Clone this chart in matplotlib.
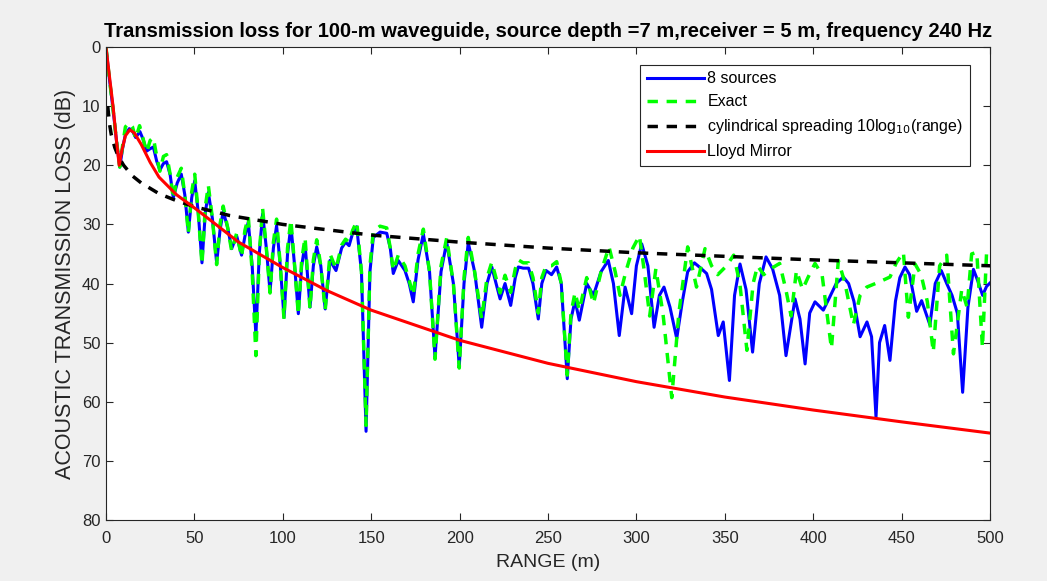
import matplotlib
matplotlib.use("Agg")
import matplotlib.pyplot as plt

plt.rcParams['font.family'] = ['Liberation Sans', 'DejaVu Sans']

# 8 sources (blue)
src8_range = [0, 2, 4, 6, 7.8, 9.5, 11, 13.2, 15, 16.8, 19.2, 21, 23, 25, 26.8, 28.7, 30.5, 32.5,
              34.3, 36.3, 38.1, 40.3, 42.6, 44.6, 46.6, 48.5, 50.2, 52.2, 54.3, 56.2, 57.9, 60.2,
              62.6, 64.5, 66.3, 68.8, 71.1, 73.9, 76.7, 78.6, 80.5, 82.7, 84.8, 86.7, 88.6, 90.7,
              92.8, 94.7, 96.5, 98.6, 100.7, 102.7, 104.6, 106.7, 108.8, 110.7, 112.6, 115.4,
              117.3, 119.2, 121.5, 124, 126.7, 130.1, 133.3, 135.5, 137.5, 139.5, 141.8, 144.5,
              147.1, 149.3, 151.2, 155, 158.8, 160.8, 162.5, 165.3, 169.1, 171.5, 173.8, 176.5,
              179.5, 183, 186.1, 189.5, 192.7, 196.5, 199.8, 202.5, 204.9, 208.5, 212.5, 215.5,
              218.2, 222.9, 225.7, 228.9, 231.5, 233.2, 236, 239, 241.5, 244.5, 246.5, 248.9,
              252, 254.9, 257.5, 260.9, 263, 265.3, 267.7, 271.9, 275.7, 280, 284.1, 287, 290.3,
              293.6, 297.3, 300, 303, 306.5, 310, 313, 315.6, 319, 322.8, 326, 329, 332.8, 336,
              339.7, 342.5, 346.3, 349.1, 352.6, 355.5, 358.6, 362, 365.7, 369.5, 373.3, 377,
              381, 384.6, 389.7, 392.5, 395.4, 398, 401, 405.7, 409, 413, 417, 420, 423, 426.5,
              430.4, 433, 435.5, 437.5, 440.4, 443.4, 446.5, 449, 451.9, 454.5, 458.5, 461.3,
              466, 469, 472.4, 475.5, 478.5, 481.5, 484.5, 487.5, 490.6, 493, 495.8, 498, 500]
src8_tl = [0, 5.5, 10.5, 16, 20.3, 17, 14.8, 13.8, 14.2, 15.3, 14.3, 15.6, 17.6, 17.2, 16.9, 19.3,
           20.8, 19.7, 19.4, 21.6, 25.5, 23, 21.5, 25, 31.3, 25.5, 22.6, 28, 36.5, 28, 24.6, 29,
           36.5, 31, 27.8, 30.5, 34.1, 31.9, 35.2, 32, 29.6, 37, 48.8, 35, 28.2, 34, 41.4, 34,
           30.2, 37, 45.7, 35, 30.2, 37, 45.1, 37, 33.3, 44, 37, 33.8, 37, 44.3, 36.1, 37.8, 34,
           33, 33.6, 31.5, 30.4, 38, 65, 38, 32.2, 31.3, 31.5, 34, 38.3, 36.1, 37.8, 40, 43.1,
           36, 31.6, 38, 52.5, 38, 33, 40, 54.1, 40, 33.1, 38, 47.4, 40, 37.2, 42.6, 40, 43.7,
           39, 37.2, 37.4, 37.4, 40, 46, 40, 37.8, 38.5, 37.2, 40, 56.1, 46, 42.9, 46.2, 40, 42,
           38, 36.1, 40, 48.8, 40.6, 45.1, 37, 33.3, 37, 47.4, 42, 40.6, 44, 49.3, 43, 38, 36.5,
           37.3, 38.3, 41, 48.8, 46.5, 56.4, 42, 36.7, 41, 51.6, 40, 35.5, 37.5, 42, 52.2, 42.6,
           46, 53.6, 45, 43.1, 44.5, 42.5, 40, 38.9, 40, 43, 49, 46.5, 49, 62.6, 50, 47.1, 53,
           43, 39, 37.2, 38.5, 44.7, 42.9, 47, 40, 37.8, 40, 42, 45, 58.4, 44, 37.6, 39.5, 42,
           40.5, 39.9]

# Exact (green)
exact_range = [0, 2, 4, 6, 7.8, 9.5, 11, 13.2, 15, 16.8, 19, 21, 23, 25, 26.8, 28.7, 30.5, 32.5,
               34.3, 36.3, 38.1, 40.3, 42.6, 44.6, 46.6, 48.5, 50.2, 52.2, 54.3, 56.2, 57.9, 60.2,
               62.6, 64.5, 66.3, 68.8, 71.1, 73.9, 76.7, 78.6, 80.5, 82.7, 84.8, 86.7, 88.6, 90.7,
               92.8, 94.7, 96.5, 98.6, 100.7, 102.7, 104.6, 106.7, 108.8, 110.7, 112.6, 115.4,
               117.3, 119.2, 121.5, 124, 126.7, 130.1, 133.3, 135.5, 137.5, 139.5, 141.8, 144.5,
               147.1, 149.3, 151.2, 155, 158.8, 160.8, 162.5, 165.3, 169.1, 171.5, 173.8, 176.5,
               179.5, 183, 186.1, 189.5, 192.7, 196.5, 199.8, 202.5, 204.9, 208.5, 212.5, 215.5,
               218.2, 222.9, 225.7, 228.9, 231.5, 233.2, 236, 239, 241.5, 244.5, 246.5, 248.9,
               252, 254.9, 257.5, 260.9, 263, 265.3, 267.7, 271.9, 275.7, 280, 284.5, 288, 290.7,
               294, 298, 301.7, 304.5, 307.5, 311, 315, 320, 324, 329, 334, 338.8, 342.5, 346,
               351, 355, 358.5, 362.5, 366, 368.5, 372, 376, 381, 384.5, 387.5, 390.5, 394, 397,
               401, 405, 410.3, 414.2, 418, 422.7, 426.5, 430.3, 436.8, 443.4, 447, 451, 453.8,
               457.6, 461, 464.5, 467.9, 471.5, 475.5, 479.3, 484, 487, 489.6, 492.5, 495.7, 498,
               500]
exact_tl = [0, 5.5, 10.5, 16, 20.3, 16.5, 13.5, 12.8, 13.5, 15.5, 13.3, 15.5, 17.8, 15.8, 15.3,
            18.5, 21, 18.5, 18.2, 21.5, 25.7, 22, 20.5, 25, 31.5, 24.5, 21.5, 28, 36.8, 27, 23.4,
            29, 36.8, 30, 26.9, 30.5, 34.5, 31.5, 35.5, 31, 28.7, 38, 52.2, 35, 27.3, 34, 41.6,
            33, 29.1, 37, 46, 34, 29.2, 37, 45.3, 36, 32.2, 44.3, 36, 32.6, 37, 44.5, 35, 37.5,
            33.5, 32.5, 33, 31, 29.5, 38, 64, 37, 31.2, 30.3, 30.6, 34, 37.8, 35.2, 37, 39.5, 42,
            35, 30.8, 38, 52.8, 37, 32.3, 40, 54.3, 39, 32.2, 38, 46, 39, 36.4, 41.6, 38.6, 41.5,
            37.5, 36, 36.5, 36.5, 39, 45, 39, 37, 37, 36.3, 40, 55.5, 45, 41.5, 44.5, 39, 43.4,
            38, 33.8, 38, 42, 38, 34, 31.9, 38, 45.5, 37.5, 45, 59.3, 45, 33.8, 40.6, 34.1, 37,
            38.5, 37, 35.2, 40, 51.3, 40, 37, 38.5, 37.5, 36.6, 41, 45.5, 37.8, 41, 39, 36.6,
            38.5, 51, 36.1, 40, 47, 42, 40.6, 39.8, 38.9, 36.5, 34.7, 45.7, 36.7, 38.5, 43, 51.6,
            37, 35.2, 51.9, 41, 44, 35, 34.7, 50.8, 35, 35]

# cylindrical spreading (black)
cyl_range = [1, 2, 3, 5, 7, 10, 15, 20, 30, 40, 50, 70, 100, 150, 200, 250, 300, 350, 400, 450, 500]
cyl_tl = [10, 13, 14.8, 17, 18.5, 20, 21.8, 23, 24.8, 26, 27, 28.5, 30, 31.8, 33, 34, 34.8, 35.4,
          36, 36.5, 37]

# Lloyd mirror (red)
lloyd_range = [0, 2, 4, 6, 7.5, 9, 11, 13.5, 16, 20, 25, 30, 40, 50, 60, 75, 100, 125, 150, 200,
               250, 300, 350, 400, 450, 500]
lloyd_tl = [0, 5, 10, 16, 20, 17.5, 15, 14, 14.5, 16.5, 19.5, 22, 25, 27.2, 29.5, 33, 37.3, 41.2,
            44.5, 49.6, 53.5, 56.6, 59.2, 61.4, 63.4, 65.3]

fig = plt.figure(figsize=(10.47, 5.81), dpi=100, facecolor='#f0f0f0')
ax = fig.add_axes([0.1012, 0.105, 0.8444, 0.814])

ax.plot(src8_range, src8_tl, color='#0000ff', lw=2.2, label='8 sources')
ax.plot(exact_range, exact_tl, color='#00ff00', lw=2.5, ls=(0, (3, 2.5)), label='Exact')
ax.plot(cyl_range, cyl_tl, color='black', lw=2.5, ls=(0, (3, 2.5)),
        label='cylindrical spreading 10log$_{10}$(range)')
ax.plot(lloyd_range, lloyd_tl, color='#ff0000', lw=2.2, label='Lloyd Mirror')

ax.set_xlim(0, 500)
ax.set_ylim(80, 0)
ax.set_xticks(range(0, 501, 50))
ax.set_yticks(range(0, 81, 10))
ax.tick_params(direction='in', top=True, right=True, labelsize=12, colors='#262626',
               length=5, width=0.8, pad=4)
ax.tick_params(axis='x', pad=8)
for s in ax.spines.values():
    s.set_color('#262626')
    s.set_linewidth(0.8)

ax.set_title('Transmission loss for 100-m waveguide, source depth =7 m,receiver = 5 m, frequency 240 Hz',
             fontsize=14.5, fontweight='bold', color='black', pad=7)
ax.set_xlabel('RANGE (m)', fontsize=14, color='#262626', labelpad=6)
ax.set_ylabel('ACOUSTIC TRANSMISSION LOSS (dB)', fontsize=15.5, color='#262626', labelpad=4)

leg = ax.legend(loc='upper right', bbox_to_anchor=(0.977, 0.962), borderaxespad=0,
                fontsize=11.5, fancybox=False, framealpha=1, edgecolor='#262626',
                handlelength=3.6, handletextpad=0.2, labelspacing=0.5, borderpad=0.4)
leg.get_frame().set_linewidth(0.8)

fig.savefig('out.png', dpi=100, facecolor=fig.get_facecolor())
